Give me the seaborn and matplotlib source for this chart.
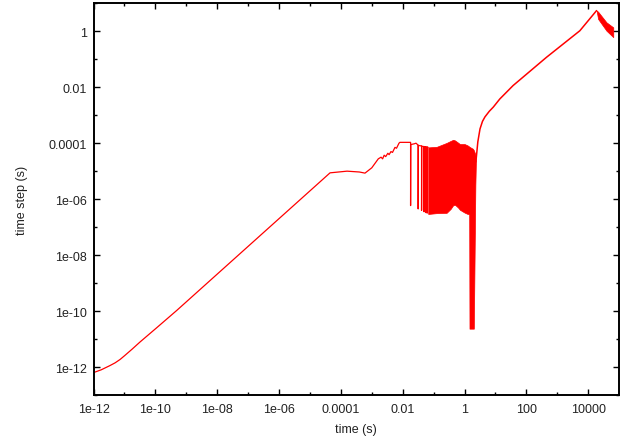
import numpy as np
import pandas as pd
import matplotlib
matplotlib.use("Agg")
import matplotlib.pyplot as plt
from matplotlib.ticker import FixedLocator, FixedFormatter, NullFormatter
import seaborn as sns

# ---- data (log10 of time and of time step, both in seconds) ----
# adaptive time-step history: smooth growth, plateau, step-rejection spikes, recovery
trace_log_t = [
    -12.0, -11.75, -11.47, -11.3, -11.14, -11.0, -10.75, -10.5, -9.96, -9.31, -4.35,
    -3.8, -3.4, -3.22, -3.0, -2.79, -2.7, -2.65, -2.6, -2.55, -2.48, -2.44,
    -2.38, -2.33, -2.25, -2.2, -2.12, -2.09, -1.745,
    -1.745, -1.74, -1.62, -1.57, -1.50,
    -1.50, -1.495, -1.39,
    -1.39, -1.385, -1.31,
    -1.31, -1.305, -1.26,
    -1.26, -1.255, -1.21,
    -1.21, -1.205, -1.175,
]
trace_log_dt = [
    -12.2, -12.1, -11.95, -11.85, -11.73, -11.6, -11.36, -11.11, -10.6, -9.98, -5.06,
    -5.0, -5.03, -5.07, -4.88, -4.56, -4.5, -4.56, -4.43, -4.48, -4.36, -4.41,
    -4.3, -4.33, -4.15, -4.18, -4.0, -3.97, -3.97,
    -6.23, -4.05, -4.02, -4.0, -4.07,
    -6.35, -4.08, -4.1,
    -6.40, -4.11, -4.12,
    -6.45, -4.12, -4.13,
    -6.48, -4.13, -4.14,
    -6.50, -4.14, -4.15,
]

# dense oscillation band (envelopes) including the deep drop near t = 1.5 s
osc_log_t = [-1.175, -0.9, -0.58, -0.45, -0.37, -0.31, -0.21, -0.15, 0.0,
             0.10, 0.15, 0.16, 0.27, 0.30, 0.35, 0.367]
osc_log_upper = [-4.15, -4.13, -3.99, -3.92, -3.88, -3.9, -3.98, -4.03, -4.03,
                 -4.08, -4.12, -4.13, -4.2, -4.25, -4.4, -4.67]
osc_log_lower = [-6.53, -6.5, -6.49, -6.35, -6.22, -6.2, -6.3, -6.38, -6.48,
                 -6.53, -6.53, -10.63, -10.63, -10.63, -5.5, -4.67]

# recovery: steady growth of the time step up to its maximum
rise_log_t = [0.367, 0.43, 0.5, 0.58, 0.66, 0.8, 0.93, 1.14, 1.57, 2.65, 3.73, 4.27]
rise_log_dt = [-4.67, -3.95, -3.49, -3.22, -3.06, -2.86, -2.71, -2.42, -1.94, -0.93, 0.02, 0.74]

# final oscillating decrease
tail_log_t = [4.27, 4.32, 4.59, 4.81]
tail_log_upper = [0.74, 0.70, 0.32, 0.14]
tail_log_lower = [0.74, 0.44, 0.02, -0.21]

x_tick_exp = [-12, -10, -8, -6, -4, -2, 0, 2, 4]
x_tick_labels = ["1e-12", "1e-10", "1e-08", "1e-06", "0.0001", "0.01", "1", "100", "10000"]
y_tick_exp = [-12, -10, -8, -6, -4, -2, 0]
y_tick_labels = ["1e-12", "1e-10", "1e-08", "1e-06", "0.0001", "0.01", "1"]

# ---- style ----
sns.set_style("ticks")
plt.rcParams["font.family"] = ["Liberation Sans", "DejaVu Sans"]
plt.rcParams["font.size"] = 9

fig = plt.figure(figsize=(6.31, 4.39), dpi=100)
ax = fig.add_axes([0.1482, 0.098, 0.833, 0.8922])
ax.set_xscale("log")
ax.set_yscale("log")

red = "#ff0000"

trace = pd.DataFrame({"t": np.power(10.0, trace_log_t), "dt": np.power(10.0, trace_log_dt)})
rise = pd.DataFrame({"t": np.power(10.0, rise_log_t), "dt": np.power(10.0, rise_log_dt)})

sns.lineplot(data=trace, x="t", y="dt", sort=False, estimator=None,
             color=red, linewidth=0.9, ax=ax)
sns.lineplot(data=rise, x="t", y="dt", sort=False, estimator=None,
             color=red, linewidth=1.1, ax=ax)

ax.fill_between(np.power(10.0, osc_log_t), np.power(10.0, osc_log_lower),
                np.power(10.0, osc_log_upper), color=red, linewidth=0.5, edgecolor=red)
ax.fill_between(np.power(10.0, tail_log_t), np.power(10.0, tail_log_lower),
                np.power(10.0, tail_log_upper), color=red, linewidth=0.5, edgecolor=red)

ax.set_xlim(1e-12, 1e5)
ax.set_ylim(1e-13, 10)

ax.xaxis.set_major_locator(FixedLocator([10.0 ** e for e in x_tick_exp]))
ax.xaxis.set_major_formatter(FixedFormatter(x_tick_labels))
ax.xaxis.set_minor_locator(FixedLocator([10.0 ** e for e in range(-11, 5, 2)]))
ax.xaxis.set_minor_formatter(NullFormatter())
ax.yaxis.set_major_locator(FixedLocator([10.0 ** e for e in y_tick_exp]))
ax.yaxis.set_major_formatter(FixedFormatter(y_tick_labels))
ax.yaxis.set_minor_locator(FixedLocator([10.0 ** e for e in range(-13, 2, 2)]))
ax.yaxis.set_minor_formatter(NullFormatter())

ax.tick_params(which="both", direction="in", top=True, right=True, colors="black",
               labelcolor="#222222")
ax.tick_params(which="major", length=4.0, width=1.0)
ax.tick_params(which="minor", length=2.0, width=1.0)
ax.tick_params(axis="x", which="major", pad=6)
ax.tick_params(axis="y", which="major", pad=4.5)

for s in ax.spines.values():
    s.set_visible(True)
    s.set_linewidth(1.4)
    s.set_color("black")

ax.set_xlabel("time (s)", labelpad=5.5, color="#222222")
ax.set_ylabel("time step (s)", labelpad=15, color="#222222")

fig.savefig("out.png", dpi=100)
